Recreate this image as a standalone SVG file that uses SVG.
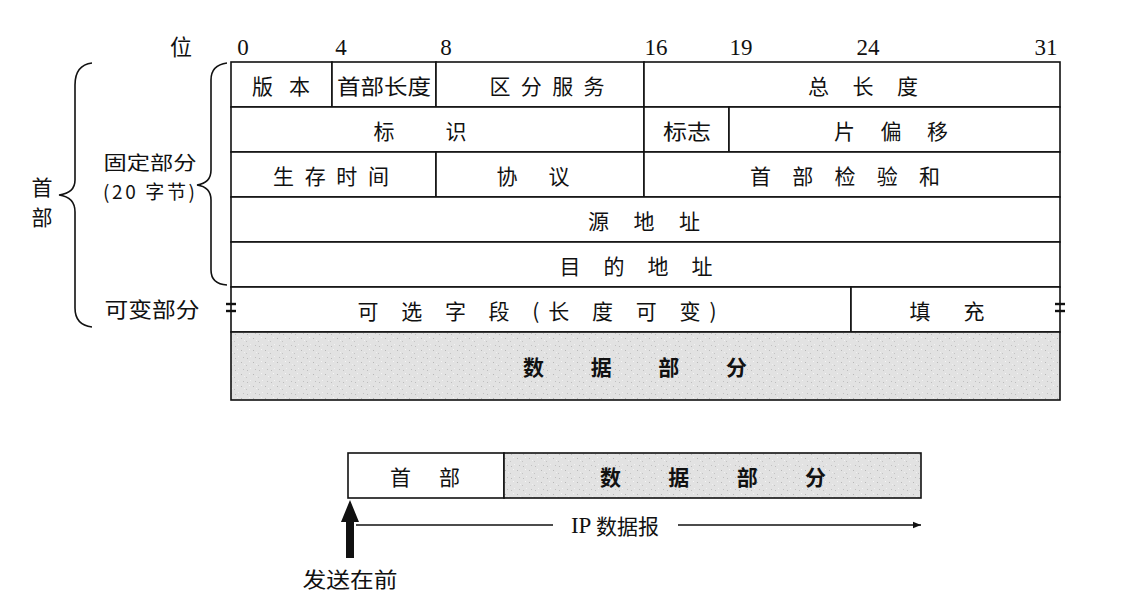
<svg xmlns="http://www.w3.org/2000/svg" width="1132" height="602" viewBox="0 0 1132 602">
<style>
.cn{font-family:"Noto Sans CJK SC","Noto Sans",sans-serif;font-size:21px;fill:#111;dominant-baseline:central;text-anchor:middle}
.sm{font-size:19px}
.num{font-family:"Liberation Serif",serif;font-size:23px;fill:#111;text-anchor:middle}
.box{fill:#fff;stroke:#111;stroke-width:1.6}
.ln{stroke:#111;stroke-width:1.6;fill:none}
.data{fill:url(#speck);stroke:#111;stroke-width:1.6}
.br{fill:none;stroke:#111;stroke-width:1.6}
.bold{font-weight:bold}
</style>
<defs>
<pattern id="speck" width="12" height="12" patternUnits="userSpaceOnUse">
<rect width="12" height="12" fill="#e2e2e2"/>
<rect x="1" y="2" width="1" height="1" fill="#b8b8b8"/>
<rect x="6" y="5" width="1" height="1" fill="#c4c4c4"/>
<rect x="9" y="1" width="1" height="1" fill="#f5f5f5"/>
<rect x="3" y="9" width="1" height="1" fill="#c0c0c0"/>
<rect x="10" y="8" width="1" height="1" fill="#f2f2f2"/>
<rect x="4" y="4" width="1" height="1" fill="#f0f0f0"/>
<rect x="7" y="10" width="1" height="1" fill="#bdbdbd"/>
</pattern>
<marker id="ah" viewBox="0 0 10 10" refX="10" refY="5" markerWidth="10" markerHeight="8" markerUnits="userSpaceOnUse" orient="auto">
<path d="M0,1 L10,5 L0,9 Z" fill="#111"/>
</marker>
</defs>

<g id="bit-labels">
<text x="181" y="55" class="cn" style="dominant-baseline:auto;font-size:22px">位</text>
<text x="243" y="55" class="num">0</text>
<text x="341" y="55" class="num">4</text>
<text x="446" y="55" class="num">8</text>
<text x="656" y="55" class="num">16</text>
<text x="741" y="55" class="num">19</text>
<text x="868" y="55" class="num">24</text>
<text x="1046" y="55" class="num">31</text>
</g>

<g id="braces">
<path class="br" d="M92,63 Q75,65 75,85 L75,180 Q75,193 59,195 Q75,197 75,212 L75,308 Q75,325 92,327"/>
<path class="br" d="M227,63 Q211,65 211,80 L211,170 Q211,183 197,185 Q211,187 211,200 L211,270 Q211,284 227,285"/>
<text x="42" y="186" class="cn">首</text>
<text x="42" y="216" class="cn">部</text>
<text x="150" y="161" class="cn sm" textLength="93" lengthAdjust="spacingAndGlyphs">固定部分</text>
<text x="149" y="190" class="cn sm" textLength="92" lengthAdjust="spacing">(20 字节)</text>
<text x="152" y="308" class="cn" textLength="95" lengthAdjust="spacingAndGlyphs">可变部分</text>
</g>

<g id="row1">
<rect id="version" class="box" x="231" y="62" width="101" height="45"/>
<text x="281" y="85" class="cn" textLength="58" lengthAdjust="spacing">版 本</text>
<rect id="ihl" class="box" x="332" y="62" width="104" height="45"/>
<text x="384" y="85" class="cn" textLength="94" lengthAdjust="spacingAndGlyphs">首部长度</text>
<rect id="dsfield" class="box" x="436" y="62" width="208" height="45"/>
<text x="547" y="85" class="cn" textLength="115" lengthAdjust="spacing">区 分 服 务</text>
<rect id="totallen" class="box" x="644" y="62" width="416" height="45"/>
<text x="863" y="85" class="cn" textLength="110" lengthAdjust="spacing">总 长 度</text>
</g>

<g id="row2">
<rect id="ident" class="box" x="231" y="107" width="413" height="45"/>
<text x="420" y="130" class="cn" textLength="93" lengthAdjust="spacing">标 识</text>
<rect id="flags" class="box" x="644" y="107" width="85" height="45"/>
<text x="687" y="130" class="cn" textLength="48" lengthAdjust="spacingAndGlyphs">标志</text>
<rect id="fragoff" class="box" x="729" y="107" width="331" height="45"/>
<text x="891" y="130" class="cn" textLength="114" lengthAdjust="spacing">片 偏 移</text>
</g>

<g id="row3">
<rect id="ttl" class="box" x="231" y="152" width="205" height="45"/>
<text x="331" y="175" class="cn" textLength="116" lengthAdjust="spacing">生 存 时 间</text>
<rect id="proto" class="box" x="436" y="152" width="208" height="45"/>
<text x="533" y="175" class="cn" textLength="73" lengthAdjust="spacing">协 议</text>
<rect id="checksum" class="box" x="644" y="152" width="416" height="45"/>
<text x="845" y="175" class="cn" textLength="190" lengthAdjust="spacing">首 部 检 验 和</text>
</g>

<g id="row4">
<rect id="src" class="box" x="231" y="197" width="829" height="45"/>
<text x="644" y="220" class="cn" textLength="112" lengthAdjust="spacing">源 地 址</text>
</g>

<g id="row5">
<rect id="dst" class="box" x="231" y="242" width="829" height="45"/>
<text x="636" y="265" class="cn" textLength="153" lengthAdjust="spacing">目 的 地 址</text>
</g>

<g id="row6">
<rect id="options" class="box" x="231" y="287" width="620" height="45"/>
<text x="537" y="310" class="cn" textLength="359" lengthAdjust="spacing">可 选 字 段 (长 度 可 变)</text>
<rect id="padding" class="box" x="851" y="287" width="209" height="45"/>
<text x="947" y="310" class="cn" textLength="75" lengthAdjust="spacing">填 充</text>
<g id="eq-marks" stroke="#111" stroke-width="2.4">
<line x1="226" y1="304" x2="236" y2="304"/>
<line x1="226" y1="311" x2="236" y2="311"/>
<line x1="1055" y1="304" x2="1065" y2="304"/>
<line x1="1055" y1="311" x2="1065" y2="311"/>
</g>
</g>

<g id="data-part">
<rect class="data" x="231" y="332" width="829" height="68"/>
<text x="635" y="366" class="cn bold" textLength="224" lengthAdjust="spacing">数 据 部 分</text>
</g>

<g id="datagram">
<rect id="dg-header" class="box" x="348" y="453" width="156" height="45"/>
<text x="425" y="476" class="cn" textLength="70" lengthAdjust="spacing">首 部</text>
<rect id="dg-data" class="data" x="504" y="453" width="417" height="45"/>
<text x="713" y="476" class="cn bold" textLength="226" lengthAdjust="spacing">数 据 部 分</text>
</g>

<g id="connectors">
<path d="M350,500 L359,522 L354,522 L354,558 L346,558 L346,522 L341,522 Z" fill="#111"/>
<line class="ln" x1="356" y1="525" x2="553" y2="525"/>
<line class="ln" x1="678" y1="525" x2="921" y2="525" marker-end="url(#ah)"/>
<text x="615" y="525" class="cn"><tspan font-family="Liberation Serif" font-size="23">IP</tspan> 数据报</text>
<text x="350" y="578" class="cn" textLength="95" lengthAdjust="spacingAndGlyphs">发送在前</text>
</g>
</svg>
